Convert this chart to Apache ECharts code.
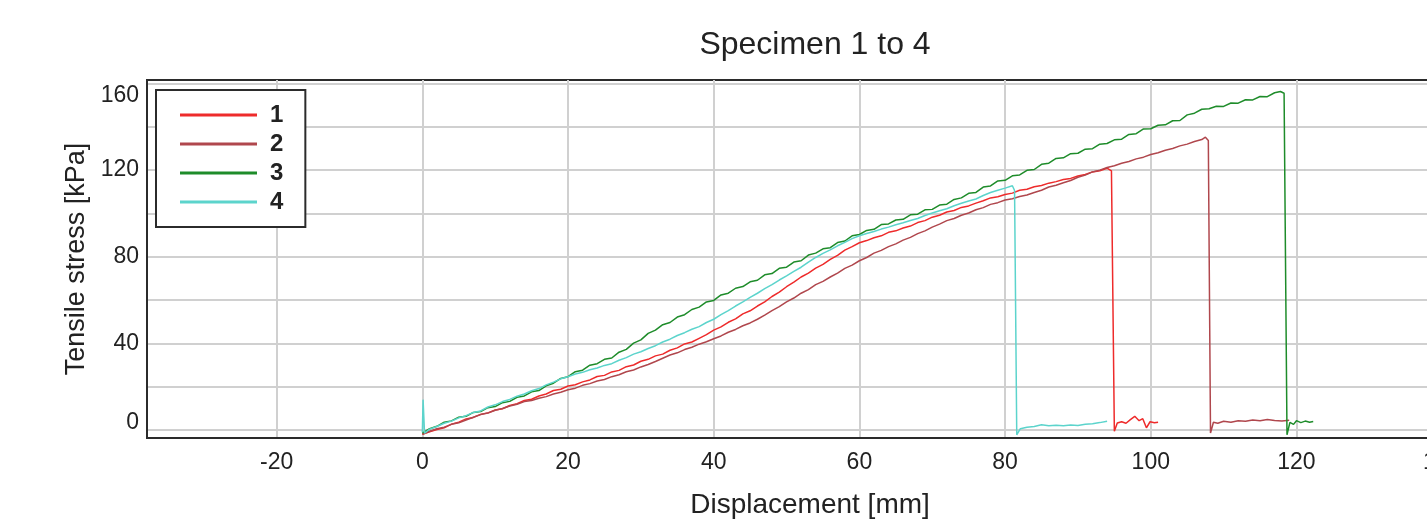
<!DOCTYPE html>
<html>
<head>
<meta charset="utf-8">
<title>Specimen 1 to 4</title>
<script src="https://cdn.jsdelivr.net/npm/echarts@6/dist/echarts.min.js"></script>
<style>
  html, body { margin: 0; padding: 0; background: #fff; overflow: hidden; }
  /* the plot runs past the right edge of the window, as in the source image */
  #chart { width: 1540px; height: 524px; }
</style>
</head>
<body>
<div id="chart"></div>
<script>
// tensile stress [kPa] vs displacement [mm]
var names = ['1', '2', '3', '4'];
var colors = ['#ee2b2b', '#b0474d', '#1e8c2a', '#5cd4cc'];

var xLabels = [-20, 0, 20, 40, 60, 80, 100, 120, 140];
var yLabels = [0, 40, 80, 120, 160];
var yLines = [0, 20, 40, 60, 80, 100, 120, 140, 160];

var spec1 = [
  [0,-2],[1,-0.8],[2,0.2],[3,1.0],[4,2.7],[5,3.6],[6,5.1],[7,5.8],[8,7.2],[9,7.9],
  [10,9.2],[11,9.8],[12,11.3],[13,12.1],[14,13.6],[15,14.2],[16,15.7],[17,16.6],[18,18.2],[19,18.8],
  [20,20.3],[21,20.9],[22,22.2],[23,23.1],[24,24.7],[25,25.2],[26,26.8],[27,27.5],[28,29.2],[29,30.0],
  [30,31.7],[31,32.6],[32,34.2],[33,35.0],[34,36.8],[35,37.9],[36,39.7],[37,40.6],[38,42.3],[39,44.0],
  [40,46.1],[41,47.6],[42,49.7],[43,51.3],[44,53.6],[45,55.0],[46,57.2],[47,59.1],[48,61.6],[49,63.6],
  [50,66.1],[51,68.2],[52,70.6],[53,72.4],[54,74.7],[55,76.4],[56,78.7],[57,80.6],[58,83.0],[59,84.6],
  [60,86.4],[61,87.4],[62,88.7],[63,89.6],[64,91.2],[65,91.9],[66,93.2],[67,94.1],[68,95.7],[69,96.6],
  [70,98.2],[71,99.1],[72,100.6],[73,101.3],[74,102.7],[75,103.4],[76,104.7],[77,105.8],[78,107.1],[79,107.6],
  [80,108.7],[81,109.3],[82,110.6],[83,111.1],[84,112.2],[85,112.8],[86,113.9],[87,114.6],[88,115.6],[89,116.1],
  [90,117.2],[91,117.9],[92,119.1],[93,119.6],[94,120.8],[94.6,119.6],[95,-0.6],[95.4,3.2],[96,3.8],[96.6,3.1],
  [97.2,4.8],[97.8,6.3],[98.4,4.3],[98.9,5.2],[99.4,1.0],[99.9,3.8],[100.5,3.3],[101,3.6]
];

var spec2 = [
  [0,-2],[1,-0.6],[2,0.6],[3,1.3],[4,2.6],[5,3.3],[6,4.6],[7,5.9],[8,7.1],[9,7.8],
  [10,9.1],[11,9.9],[12,11.1],[13,11.9],[14,13.1],[15,13.6],[16,14.6],[17,15.4],[18,16.6],[19,17.4],
  [20,18.6],[21,19.3],[22,20.6],[23,21.4],[24,22.6],[25,23.3],[26,24.6],[27,25.5],[28,26.9],[29,27.7],
  [30,29.1],[31,30.2],[32,31.6],[33,33.1],[34,34.6],[35,35.6],[36,37.1],[37,38.2],[38,39.6],[39,40.7],
  [40,42.1],[41,43.4],[42,45.1],[43,46.4],[44,48.1],[45,49.4],[46,51.1],[47,53.0],[48,55.1],[49,56.9],
  [50,59.1],[51,60.9],[52,63.1],[53,64.8],[54,67.1],[55,68.6],[56,70.6],[57,72.4],[58,74.6],[59,76.1],
  [60,78.1],[61,79.6],[62,81.6],[63,82.9],[64,84.6],[65,85.9],[66,87.6],[67,88.9],[68,90.6],[69,91.9],
  [70,93.6],[71,95.0],[72,96.6],[73,97.6],[74,99.1],[75,100.1],[76,101.6],[77,102.6],[78,104.1],[79,104.9],
  [80,106.1],[81,106.7],[82,107.7],[83,108.4],[84,109.6],[85,110.6],[86,112.1],[87,112.9],[88,114.1],[89,115.1],
  [90,116.6],[91,117.6],[92,119.1],[93,119.9],[94,121.1],[95,121.9],[96,123.1],[97,123.9],[98,125.1],[99,125.9],
  [100,127.1],[101,127.9],[102,129.1],[103,129.9],[104,131.1],[105,131.9],[106,133.1],[107,134.0],[107.5,135.1],[107.9,133.6],
  [108.2,-1.4],[108.6,3.6],[109.2,3.1],[110,4.0],[111,3.6],[112,4.3],[113,4.0],[114,4.6],[115,4.3],[116,4.8],
  [117,4.4],[118,4.1],[119,4.5]
];

var spec3 = [
  [0,-1.5],[1,0.6],[2,1.7],[3,3.6],[4,4.2],[5,5.9],[6,6.3],[7,8.1],[8,8.5],[9,10.3],
  [10,10.8],[11,12.6],[12,13.2],[13,15.1],[14,15.7],[15,17.6],[16,18.2],[17,20.4],[18,21.6],[19,23.8],
  [20,24.6],[21,26.9],[22,27.6],[23,29.9],[24,30.6],[25,32.6],[26,33.2],[27,35.9],[28,37.2],[29,40.1],
  [30,41.6],[31,44.6],[32,46.1],[33,48.6],[34,49.6],[35,52.1],[36,53.2],[37,55.6],[38,56.7],[39,59.1],
  [40,59.8],[41,62.3],[42,63.1],[43,65.4],[44,66.2],[45,68.4],[46,69.1],[47,71.6],[48,72.2],[49,74.6],
  [50,75.1],[51,77.5],[52,78.1],[53,80.7],[54,81.6],[55,83.6],[56,84.1],[57,86.5],[58,87.2],[59,89.6],
  [60,90.2],[61,92.1],[62,92.6],[63,94.8],[64,95.1],[65,96.9],[66,97.2],[67,99.3],[68,99.6],[69,101.6],
  [70,101.8],[71,103.8],[72,104.2],[73,106.4],[74,107.1],[75,109.2],[76,109.6],[77,112.1],[78,112.6],[79,114.9],
  [80,115.2],[81,117.3],[82,117.7],[83,119.8],[84,120.2],[85,122.6],[86,123.1],[87,125.3],[88,125.6],[89,127.5],
  [90,127.7],[91,129.6],[92,129.8],[93,131.9],[94,132.2],[95,133.9],[96,134.2],[97,136.4],[98,136.7],[99,138.9],
  [100,139.0],[101,140.6],[102,140.8],[103,142.7],[104,142.8],[105,145.4],[106,146.2],[107,148.0],[108,148.2],[109,149.4],
  [110,149.3],[111,150.9],[112,150.8],[113,152.4],[114,152.3],[115,153.9],[116,153.8],[117,155.6],[117.8,156.2],[118.3,155.4],
  [118.7,-2.2],[119.1,3.5],[119.6,2.6],[120,4.3],[120.6,3.4],[121.2,4.1],[121.8,3.6],[122.3,3.9]
];

var spec4 = [
  [0,-1],[0.1,14],[0.3,-1.5],[1,0.4],[2,1.6],[3,3.1],[4,4.1],[5,5.6],[6,6.6],[7,8.1],[8,8.8],[9,10.6],
  [10,11.6],[11,13.1],[12,14.1],[13,15.6],[14,16.6],[15,18.1],[16,19.1],[17,20.8],[18,22.1],[19,23.6],
  [20,24.6],[21,25.8],[22,26.6],[23,27.8],[24,28.6],[25,29.8],[26,30.6],[27,32.2],[28,33.4],[29,35.0],
  [30,36.1],[31,37.6],[32,38.9],[33,40.6],[34,41.9],[35,43.6],[36,44.9],[37,46.5],[38,47.7],[39,49.6],
  [40,51.1],[41,53.2],[42,55.1],[43,57.2],[44,59.1],[45,61.2],[46,63.1],[47,65.2],[48,67.1],[49,69.2],
  [50,71.1],[51,73.2],[52,75.1],[53,77.5],[54,79.6],[55,81.5],[56,83.1],[57,85.0],[58,86.6],[59,88.3],
  [60,89.6],[61,90.7],[62,91.6],[63,92.7],[64,93.6],[65,94.7],[66,95.6],[67,96.7],[68,97.6],[69,99.0],
  [70,100.1],[71,101.2],[72,102.1],[73,103.5],[74,104.6],[75,105.7],[76,106.6],[77,108.2],[78,109.6],[79,110.6],
  [80,111.6],[81,112.7],[81.3,110.5],[81.6,-2.2],[82.1,0.6],[83,1.3],[84,1.6],[85,2.4],[86,2.0],[87,2.2],
  [88,1.9],[89,2.3],[90,2.1],[91,2.6],[92,2.9],[93,3.4],[94,4.0]
];

var seriesData = [spec1, spec2, spec3, spec4];

(function() {
  var font = '"Liberation Sans", Arial, sans-serif';
  var ink = '#222';
  var frame = '#2b2b2b';
  var gridLine = '#d0d0d0';

  var chart = echarts.init(document.getElementById('chart'), null, { renderer: 'canvas' });

  var series = names.map(function(n, i) {
    return {
      name: n,
      type: 'line',
      data: seriesData[i],
      symbol: 'none',
      lineStyle: { color: colors[i], width: 1.5 },
      itemStyle: { color: colors[i] },
      animation: false
    };
  });

  chart.setOption({
    animation: false,
    backgroundColor: '#fff',
    title: {
      text: 'Specimen 1 to 4',
      left: 810,
      top: 24,
      textAlign: 'center',
      textStyle: { fontFamily: font, fontSize: 32, fontWeight: 'normal', color: ink }
    },
    legend: {
      data: names,
      orient: 'vertical',
      left: 156,
      top: 90,
      padding: [13, 22, 13, 24],
      itemGap: 5,
      itemWidth: 77,
      itemHeight: 3,
      icon: 'rect',
      borderColor: frame,
      borderWidth: 2,
      backgroundColor: '#fff',
      textStyle: { fontFamily: font, fontSize: 24, fontWeight: 'bold', color: ink, padding: [0, 0, 0, 8] }
    },
    grid: {
      left: 147, top: 80, width: 1368, height: 360,
      show: true, borderColor: frame, borderWidth: 2, backgroundColor: '#fff'
    },
    xAxis: {
      type: 'value',
      min: -37.8,
      max: 150,
      name: 'Displacement [mm]',
      nameLocation: 'middle',
      nameGap: 53,
      // the plot is centred past the window edge; pull the name back to x = 810
      nameTextStyle: { fontFamily: font, fontSize: 28, color: ink, padding: [0, 42, 0, 0] },
      axisLine: { show: true, onZero: false, lineStyle: { color: frame, width: 2 } },
      axisTick: { show: false, customValues: xLabels },
      axisLabel: { customValues: xLabels, margin: 13, fontFamily: font, fontSize: 23, color: ink },
      splitLine: { show: true, lineStyle: { color: gridLine, width: 2 } }
    },
    yAxis: {
      type: 'value',
      min: -3.7,
      max: 161.5,
      name: 'Tensile stress [kPa]',
      nameLocation: 'middle',
      nameGap: 50,
      nameTextStyle: { fontFamily: font, fontSize: 27, color: ink },
      axisLine: { show: true, onZero: false, lineStyle: { color: frame, width: 2 } },
      axisTick: { show: false, customValues: yLines },
      axisLabel: {
        customValues: yLabels,
        margin: 8,
        fontFamily: font,
        fontSize: 23,
        color: ink,
        formatter: function(v) {
          if (v === 160) return '{top|160}';
          if (v === 0) return '{bot|0}';
          return String(v);
        },
        rich: {
          top: { fontFamily: font, fontSize: 23, color: ink, padding: [24, 0, 0, 0] },
          bot: { fontFamily: font, fontSize: 23, color: ink, padding: [0, 0, 14, 0] }
        }
      },
      splitLine: { show: true, lineStyle: { color: gridLine, width: 2 } }
    },
    series: series
  });

  window.addEventListener('resize', function() { chart.resize(); });
})();
</script>
</body>
</html>
